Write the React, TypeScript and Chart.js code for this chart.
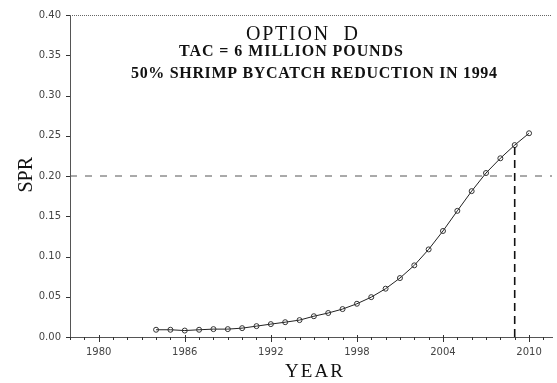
import React, { useEffect, useRef } from "react";
import { Chart, registerables } from "chart.js";

Chart.register(...registerables);

const years = [1984, 1985, 1986, 1987, 1988, 1989, 1990, 1991, 1992, 1993, 1994, 1995, 1996, 1997, 1998, 1999, 2000, 2001, 2002, 2003, 2004, 2005, 2006, 2007, 2008, 2009, 2010];
const spr = [0.009, 0.009, 0.008, 0.009, 0.0098, 0.0098, 0.011, 0.0135, 0.016, 0.0184, 0.021, 0.0258, 0.0298, 0.0347, 0.0413, 0.0495, 0.06, 0.0732, 0.089, 0.1088, 0.1317, 0.1567, 0.1812, 0.2037, 0.222, 0.2384, 0.2531];
const xMin = 1978;
const xMax = 2011.6;
const xLabelStart = 1980;
const xLabelStep = 6;
const yMin = 0;
const yMax = 0.4;
const yStep = 0.05;
const targetSpr = 0.2;
const targetYear = 2009;
const targetYearSpr = 0.2384;
const titleLines = ["OPTION  D", "TAC = 6 MILLION POUNDS", "50% SHRIMP BYCATCH REDUCTION IN 1994"];
const xTitle = "YEAR";
const yTitle = "SPR";

function drawSpaced(ctx: any, text: string, cx: number, baseline: number, width: number, font: string) {
  ctx.font = font;
  ctx.letterSpacing = "0px";
  const w = ctx.measureText(text).width;
  const ls = Math.max(0, (width - w) / Math.max(1, text.length - 1));
  ctx.textAlign = "left";
  ctx.textBaseline = "alphabetic";
  ctx.letterSpacing = ls + "px";
  ctx.fillText(text, cx - width / 2, baseline);
  ctx.letterSpacing = "0px";
}

const decorPlugin = {
  id: "decor",
  afterDraw(chart: any) {
    const { ctx, chartArea, scales } = chart;
    const xs = scales.x;
    const ys = scales.y;
    ctx.save();
    // top border
    ctx.strokeStyle = "#666";
    ctx.lineWidth = 1;
    ctx.setLineDash([1, 1]);
    ctx.beginPath();
    ctx.moveTo(chartArea.left, chartArea.top + 0.5);
    ctx.lineTo(chartArea.right, chartArea.top + 0.5);
    ctx.stroke();
    ctx.setLineDash([]);
    ctx.strokeStyle = "#333";
    // x ticks
    for (let yr = Math.ceil(xMin); yr <= xMax; yr++) {
      const px = Math.round(xs.getPixelForValue(yr)) + 0.5;
      const major = (yr - xLabelStart) % xLabelStep === 0;
      ctx.beginPath();
      ctx.moveTo(px, chartArea.bottom - (major ? 2 : 0));
      ctx.lineTo(px, chartArea.bottom + (major ? 5 : 3));
      ctx.stroke();
    }
    // y ticks
    for (let v = yMin; v <= yMax + 1e-9; v += yStep) {
      const py = Math.round(ys.getPixelForValue(v)) + 0.5;
      ctx.beginPath();
      ctx.moveTo(chartArea.left - 4, py);
      ctx.lineTo(chartArea.left, py);
      ctx.stroke();
    }
    // titles
    ctx.fillStyle = "#111";
    drawSpaced(ctx, titleLines[0], 302, 40, 112, "20px 'Liberation Serif'");
    drawSpaced(ctx, titleLines[1], 291, 56, 224, "bold 16px 'Liberation Serif'");
    drawSpaced(ctx, titleLines[2], 314, 78, 366, "bold 16px 'Liberation Serif'");
    // axis titles
    drawSpaced(ctx, xTitle, 314, 377, 58, "19px 'Liberation Serif'");
    ctx.save();
    ctx.translate(32, (chartArea.top + chartArea.bottom) / 2);
    ctx.rotate(-Math.PI / 2);
    drawSpaced(ctx, yTitle, 0, 0, 33, "20px 'Liberation Serif'");
    ctx.restore();
    ctx.restore();
  },
};

export default function App() {
  const ref = useRef<HTMLCanvasElement | null>(null);
  useEffect(() => {
    if (!ref.current) return;
    const chart = new Chart(ref.current, {
      type: "scatter",
      data: {
        datasets: [
          {
            label: "target",
            data: [
              { x: xMin, y: targetSpr },
              { x: xMax, y: targetSpr },
            ],
            showLine: true,
            borderColor: "#555",
            borderWidth: 1,
            borderDash: [7, 8],
            pointRadius: 0,
          },
          {
            label: "year",
            data: [
              { x: targetYear, y: yMin },
              { x: targetYear, y: targetYearSpr },
            ],
            showLine: true,
            borderColor: "#111",
            borderWidth: 1.6,
            borderDash: [8, 5],
            pointRadius: 0,
          },
          {
            label: "SPR",
            data: years.map((y, i) => ({ x: y, y: spr[i] })),
            showLine: true,
            borderColor: "#222",
            borderWidth: 1,
            pointRadius: 2.5,
            pointBorderWidth: 1,
            pointBorderColor: "#333",
            pointBackgroundColor: "rgba(255,255,255,0)",
          },
        ],
      },
      options: {
        animation: false,
        responsive: true,
        maintainAspectRatio: false,
        layout: { padding: { top: 11, right: 1, left: 0, bottom: 0 } },
        plugins: {
          legend: { display: false },
          tooltip: { enabled: false },
          title: { display: false },
        },
        scales: {
          x: {
            type: "linear",
            min: xMin,
            max: xMax,
            afterFit: (s: any) => {
              s.height = 46;
            },
            afterBuildTicks: (s: any) => {
              const t = [];
              for (let v = xLabelStart; v <= xMax; v += xLabelStep) t.push({ value: v });
              s.ticks = t;
            },
            grid: { display: true, drawOnChartArea: false, drawTicks: false },
            border: { display: true, color: "#555", width: 1, dash: [1, 1] },
            ticks: {
              padding: 9,
              color: "#444",
              font: { family: "'DejaVu Sans'", size: 10 },
              maxRotation: 0,
              autoSkip: false,
              callback: (v: any) => String(v),
            },
          },
          y: {
            type: "linear",
            min: yMin,
            max: yMax,
            afterFit: (s: any) => {
              s.width = 70;
            },
            grid: { display: true, drawOnChartArea: false, drawTicks: false },
            border: { display: true, color: "#555", width: 1, dash: [1, 1] },
            ticks: {
              stepSize: yStep,
              padding: 9,
              color: "#444",
              font: { family: "'DejaVu Sans'", size: 10 },
              callback: (v: any) => Number(v).toFixed(2),
            },
          },
        },
      },
      plugins: [decorPlugin],
    });
    return () => chart.destroy();
  }, []);
  return (
    <div style={{ position: "fixed", left: 0, top: 0, width: 557, height: 383, background: "#fff" }}>
      <canvas ref={ref} />
    </div>
  );
}
